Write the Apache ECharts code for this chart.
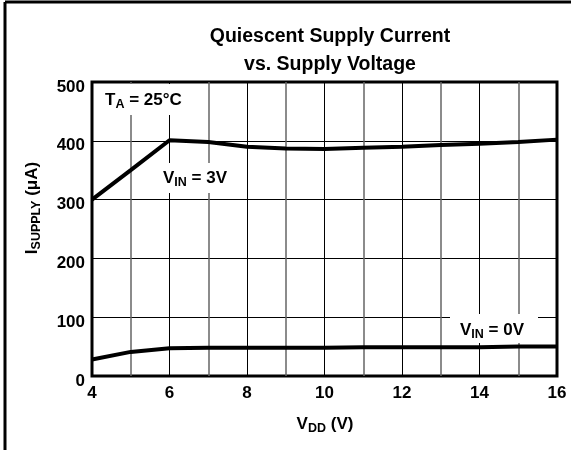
<!DOCTYPE html>
<html>
<head>
<meta charset="utf-8">
<script src="https://cdn.jsdelivr.net/npm/echarts@6/dist/echarts.min.js"></script>
<style>
  html, body { margin: 0; padding: 0; background: #fff; }
  #chart { width: 571px; height: 450px; }
</style>
</head>
<body>
<div id="chart"></div>
<script>
// supply voltage (V) and quiescent current (uA)
var vdd = [4, 5, 6, 7, 8, 9, 10, 11, 12, 13, 14, 15, 16];
var vin3V = [300, 350, 401, 398, 390, 387, 386, 388, 390, 393, 395, 398, 402];
var vin0V = [28, 41, 47, 48, 48, 48, 48, 49, 49, 49, 49, 50, 50];
var yTicks = [0, 100, 200, 300, 400, 500];

var FONT = '"Liberation Sans", Arial, Helvetica, sans-serif';

function pairs(xs, ys) {
    var out = [];
    for (var i = 0; i < xs.length; i++) out.push([xs[i], ys[i]]);
    return out;
}

var rich = {
    m: { fontFamily: FONT, fontWeight: 'bold', fontSize: 17, lineHeight: 22, color: '#000' },
    s: { fontFamily: FONT, fontWeight: 'bold', fontSize: 12.5, lineHeight: 12, verticalAlign: 'bottom', color: '#000' }
};

var chart = echarts.init(document.getElementById('chart'));

var option = {
    animation: false,
    backgroundColor: '#fff',
    title: {
        text: 'Quiescent Supply Current\nvs. Supply Voltage',
        left: 325,
        textAlign: 'center',
        top: 18,
        textStyle: { fontFamily: FONT, fontWeight: 'bold', fontSize: 19.5, lineHeight: 28, color: '#000' }
    },
    grid: {
        left: 92, right: 14, top: 82, bottom: 74,
        show: true, borderColor: '#000', borderWidth: 3, backgroundColor: '#fff'
    },
    xAxis: {
        type: 'value', min: 4, max: 16, interval: 2,
        axisLine: { show: false },
        axisTick: { show: false },
        axisLabel: { fontFamily: FONT, fontWeight: 'bold', fontSize: 17, color: '#000', margin: 9 },
        splitLine: { show: true, lineStyle: { color: '#000', width: 1 } },
        minorTick: { show: false, splitNumber: 2 },
        minorSplitLine: { show: true, lineStyle: { color: '#666', width: 1.5 } }
    },
    yAxis: {
        type: 'value', min: yTicks[0], max: yTicks[yTicks.length - 1], interval: 100,
        axisLine: { show: false },
        axisTick: { show: false },
        axisLabel: { fontFamily: FONT, fontWeight: 'bold', fontSize: 17, color: '#000', margin: 7, verticalAlign: 'top', lineHeight: 10 },
        splitLine: { show: true, lineStyle: { color: '#000', width: 1 } }
    },
    series: [
        {
            name: 'VIN = 3V', type: 'line', data: pairs(vdd, vin3V),
            showSymbol: false,
            lineStyle: { color: '#000', width: 4 }, z: 3
        },
        {
            name: 'VIN = 0V', type: 'line', data: pairs(vdd, vin0V),
            showSymbol: false,
            lineStyle: { color: '#000', width: 4 }, z: 3
        }
    ],
    graphic: [
        // outer frame (left and top edges only are in view)
        { type: 'line', shape: { x1: 5, y1: 2, x2: 5, y2: 450 }, style: { stroke: '#000', lineWidth: 3 } },
        { type: 'line', shape: { x1: 5, y1: 2, x2: 571, y2: 2 }, style: { stroke: '#000', lineWidth: 3 } },
        // white patches behind the annotations
        { type: 'rect', shape: { x: 94, y: 84, width: 102, height: 31 }, style: { fill: '#fff' }, z: 50 },
        { type: 'rect', shape: { x: 157, y: 163, width: 85, height: 30 }, style: { fill: '#fff' }, z: 50 },
        { type: 'rect', shape: { x: 450, y: 314, width: 88, height: 29 }, style: { fill: '#fff' }, z: 50 },
        { type: 'text', x: 105, y: 100, z: 60, style: { text: '{m|T}{s|A}{m| = 25°C}', rich: rich, verticalAlign: 'middle' } },
        { type: 'text', x: 163, y: 178, z: 60, style: { text: '{m|V}{s|IN}{m| = 3V}', rich: rich, verticalAlign: 'middle' } },
        { type: 'text', x: 460, y: 330, z: 60, style: { text: '{m|V}{s|IN}{m| = 0V}', rich: rich, verticalAlign: 'middle' } },
        // axis names
        { type: 'text', x: 325, y: 424, z: 60, style: { text: '{m|V}{s|DD}{m| (V)}', rich: rich, align: 'center', verticalAlign: 'middle' } },
        { type: 'text', x: 32, y: 208, rotation: Math.PI / 2, z: 60, style: { text: '{m|I}{s|SUPPLY}{m| (μA)}', rich: rich, align: 'center', verticalAlign: 'middle' } }
    ]
};

chart.setOption(option);
</script>
</body>
</html>
